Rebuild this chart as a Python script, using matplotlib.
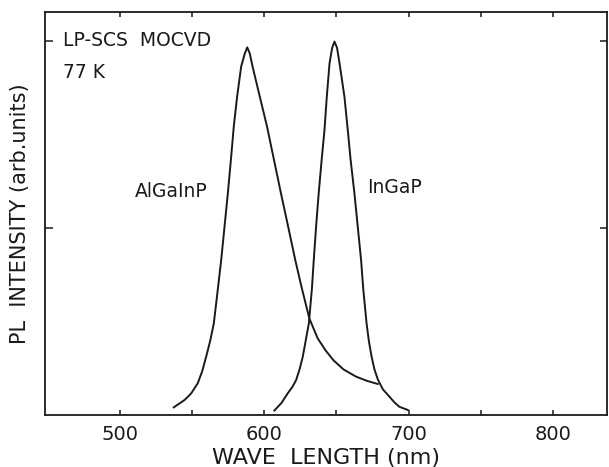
import numpy as np
import matplotlib.pyplot as plt
from matplotlib.ticker import FixedLocator

# PL spectra at 77 K (arb. units, InGaP peak = 2)
algainp_nm = [537.5, 544.9, 549.5, 554.1, 557.2, 559.9, 562.8, 565.2, 567.9,
              570.3, 572.6, 574.9, 577.0, 579.0, 581.3, 584.1, 586.5, 588.3,
              590.0, 592.0, 597.0, 602.0, 606.8, 611.6, 616.6, 621.5, 626.0,
              631.3, 637.0, 642.5, 648.0, 655.0, 663.6, 671.0, 678.5]
algainp_int = [0.041, 0.080, 0.115, 0.170, 0.235, 0.312, 0.400, 0.490, 0.668,
               0.829, 1.007, 1.186, 1.364, 1.542, 1.702, 1.863, 1.930, 1.966,
               1.935, 1.863, 1.702, 1.542, 1.364, 1.186, 1.007, 0.829, 0.679,
               0.515, 0.410, 0.345, 0.292, 0.243, 0.205, 0.183, 0.166]

ingap_nm = [607.1, 612.0, 616.3, 619.5, 622.1, 624.5, 626.7, 630.9, 633.0,
            634.3, 635.9, 637.7, 639.8, 641.7, 643.3, 645.2, 647.0, 648.6,
            650.4, 652.1, 655.5, 657.8, 659.7, 662.4, 664.7, 667.0, 668.5,
            670.8, 672.4, 674.2, 676.2, 678.6, 682.0, 686.6, 690.0, 693.5,
            699.3]
ingap_int = [0.024, 0.065, 0.116, 0.150, 0.187, 0.245, 0.312, 0.490, 0.674,
             0.829, 1.007, 1.186, 1.369, 1.524, 1.702, 1.881, 1.963, 1.997,
             1.963, 1.881, 1.702, 1.524, 1.369, 1.186, 1.007, 0.829, 0.674,
             0.490, 0.395, 0.315, 0.245, 0.190, 0.138, 0.098, 0.068, 0.044,
             0.027]

xticks = [500, 600, 700, 800]
xminor = [550, 650, 750]

fig = plt.figure(figsize=(6.09, 4.67), dpi=100)
ax = fig.add_axes([0.0739, 0.1113, 0.9228, 0.863])

ax.plot(algainp_nm, algainp_int, color='#1a1a1a', lw=1.4)
ax.plot(ingap_nm, ingap_int, color='#1a1a1a', lw=1.4)

ax.set_xlim(448.5, 837)
ax.set_ylim(0, 2.155)

ax.set_xticks(xticks)
ax.set_xticklabels([str(t) for t in xticks])
ax.xaxis.set_minor_locator(FixedLocator(xminor))
ax.set_yticks([1, 2])
ax.set_yticklabels([])

ax.tick_params(axis='x', which='both', direction='in', top=True, length=3.6,
               width=1.1, labelsize=14, pad=7, colors='#1a1a1a')
ax.tick_params(axis='y', which='both', direction='in', right=True, length=5.4,
               width=1.1, colors='#1a1a1a')
for s in ax.spines.values():
    s.set_linewidth(1.3)
    s.set_color('#1a1a1a')

ax.set_xlabel('WAVE  LENGTH (nm)', fontsize=16, labelpad=3, color='#1a1a1a')
ax.set_ylabel('PL  INTENSITY (arb.units)', fontsize=15, labelpad=7,
              color='#1a1a1a')

ax.text(460.6, 2.005, 'LP-SCS  MOCVD', fontsize=13.5, va='center', ha='left',
        color='#1a1a1a')
ax.text(460.6, 1.834, '77 K', fontsize=13.5, va='center', ha='left',
        color='#1a1a1a')
ax.text(510.4, 1.193, 'AlGaInP', fontsize=13.5, va='center', ha='left',
        color='#1a1a1a')
ax.text(671.4, 1.214, 'InGaP', fontsize=13.5, va='center', ha='left',
        color='#1a1a1a')

fig.savefig('out.png', dpi=100)
